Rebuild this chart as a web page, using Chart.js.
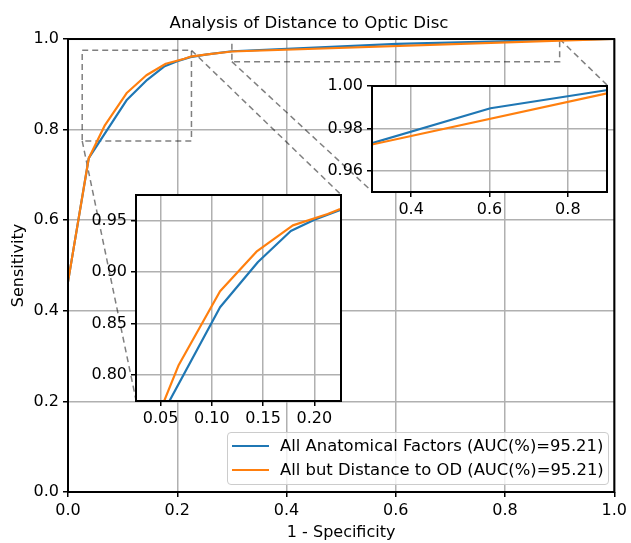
<!DOCTYPE html>
<html>
<head>
<meta charset="utf-8">
<script src="https://cdn.jsdelivr.net/npm/chart.js@4"></script>
<style>
  html, body { margin: 0; padding: 0; background: #fff; }
  #wrap { position: relative; width: 631px; height: 543px; font-family: "DejaVu Sans", sans-serif; }
  #wrap canvas { position: absolute; left: 0; top: 0; }
  .legend { position: absolute; left: 227px; top: 432px; width: 382px; height: 53px; box-sizing: border-box;
            border: 1px solid #cccccc; border-radius: 4px; background: rgba(255,255,255,0.8); }
  .lg-row { position: absolute; left: 0; height: 20px; line-height: 20px; white-space: nowrap; font-size: 16.4px; color: #000; }
  .lg-handle { position: absolute; left: 4px; top: 9px; width: 37px; height: 2px; }
  .lg-text { position: absolute; left: 52px; top: 0; }
</style>
</head>
<body>
<div id="wrap">
  <canvas id="main" width="631" height="543"></canvas>
  <canvas id="zoomLow"></canvas>
  <canvas id="zoomHigh"></canvas>
  <div class="legend" id="legend"></div>
</div>
<script>
// ROC points (x = 1 - specificity, y = sensitivity)
const seriesNames = ['All Anatomical Factors (AUC(%)=95.21)', 'All but Distance to OD (AUC(%)=95.21)'];
const seriesColors = ['#1f77b4', '#ff7f0e'];
const fprAll  = [0, 0.038, 0.108, 0.145, 0.177, 0.200, 0.224, 0.255, 0.300, 0.6025, 0.898, 1.0];
const tprAll  = [0.464, 0.737, 0.866, 0.910, 0.940, 0.951, 0.960, 0.966, 0.973, 0.9895, 0.998, 1.0];
const fprNoOD = [0, 0.038, 0.0677, 0.108, 0.1435, 0.179, 0.213, 0.224, 0.255, 0.300, 0.900, 1.0];
const tprNoOD = [0.464, 0.737, 0.810, 0.8815, 0.920, 0.9455, 0.9565, 0.961, 0.966, 0.9724, 0.9965, 1.0];

const mainTicks = [0, 0.2, 0.4, 0.6, 0.8, 1.0];
// lower-left zoom
const lowXRange = [0.026, 0.226], lowYRange = [0.775, 0.975];
const lowXTicks = [0.05, 0.10, 0.15, 0.20], lowYTicks = [0.80, 0.85, 0.90, 0.95];
// upper-right zoom
const highXRange = [0.3, 0.9], highYRange = [0.95, 1.0];
const highXTicks = [0.4, 0.6, 0.8], highYTicks = [0.96, 0.98, 1.00];

// where the insets sit, as fractions of the main axes
const lowPlace  = {x0: 0.125, y0: 0.2,   w: 0.376, h: 0.455};
const highPlace = {x0: 0.557, y0: 0.663, w: 0.431, h: 0.234};

Chart.defaults.font.family = '"DejaVu Sans", sans-serif';
Chart.defaults.font.size = 16;
Chart.defaults.color = '#000';

const toPts = (xs, ys) => xs.map((x, i) => ({x: x, y: ys[i]}));
const makeDatasets = () => [
  {label: seriesNames[0], data: toPts(fprAll, tprAll), borderColor: seriesColors[0], order: 1},
  {label: seriesNames[1], data: toPts(fprNoOD, tprNoOD), borderColor: seriesColors[1], order: 0}
].map(d => Object.assign(d, {showLine: true, pointRadius: 0, borderWidth: 2.2, fill: false, tension: 0,
                              borderJoinStyle: 'round'}));

const gridOpts = {color: '#b0b0b0', lineWidth: 1.5, tickColor: '#000', tickLength: 5, tickWidth: 1.5};

const frame = {
  id: 'frame',
  afterDraw(chart) {
    const {ctx, chartArea: a} = chart;
    ctx.save();
    ctx.strokeStyle = '#000';
    ctx.lineWidth = 2;
    ctx.strokeRect(a.left, a.top, a.right - a.left, a.bottom - a.top);
    ctx.restore();
  }
};
const whiteArea = {
  id: 'whiteArea',
  beforeDraw(chart) {
    const {ctx, chartArea: a} = chart;
    ctx.save();
    ctx.fillStyle = '#fff';
    ctx.fillRect(a.left, a.top, a.right - a.left, a.bottom - a.top);
    ctx.restore();
  }
};

const placeRect = (a, p) => {
  const w = a.right - a.left, h = a.bottom - a.top;
  return {left: a.left + p.x0 * w, right: a.left + (p.x0 + p.w) * w,
          top: a.bottom - (p.y0 + p.h) * h, bottom: a.bottom - p.y0 * h};
};

// dashed boxes on the main axes + connectors to the insets
const zoomMarks = {
  id: 'zoomMarks',
  beforeDatasetsDraw(chart) {
    const {ctx, chartArea: a, scales: {x, y}} = chart;
    ctx.save();
    ctx.strokeStyle = 'rgba(0,0,0,0.5)';
    ctx.lineWidth = 1.5;
    ctx.setLineDash([6, 4]);
    const boxes = [[lowXRange, lowYRange, lowPlace], [highXRange, highYRange, highPlace]];
    boxes.forEach(([xr, yr, p]) => {
      const x0 = x.getPixelForValue(xr[0]), x1 = x.getPixelForValue(xr[1]);
      const y0 = y.getPixelForValue(yr[0]), y1 = y.getPixelForValue(yr[1]);
      ctx.strokeRect(x0, y1, x1 - x0, y0 - y1);
      const t = placeRect(a, p);
      ctx.beginPath();
      ctx.moveTo(x0, y0); ctx.lineTo(t.left, t.bottom);
      ctx.moveTo(x1, y1); ctx.lineTo(t.right, t.top);
      ctx.stroke();
    });
    ctx.restore();
  }
};

const fixedTicks = vals => s => { s.ticks = vals.map(v => ({value: v})); };

const mainChart = new Chart(document.getElementById('main'), {
  type: 'scatter',
  data: {datasets: makeDatasets()},
  options: {
    responsive: false, animation: false, events: [],
    layout: {padding: {top: 0, right: 13, bottom: 0, left: 0}},
    plugins: {
      legend: {display: false}, tooltip: {enabled: false},
      title: {display: true, text: 'Analysis of Distance to Optic Disc', color: '#000',
              font: {size: 16.6, weight: 'normal'}, padding: {top: 14, bottom: 5.1}}
    },
    scales: {
      x: {type: 'linear', min: 0, max: 1, afterBuildTicks: fixedTicks(mainTicks), afterFit: s => { s.height = 51; },
          ticks: {padding: 4, maxRotation: 0, autoSkip: false, callback: v => v.toFixed(1)},
          grid: gridOpts, border: {display: false},
          title: {display: true, text: '1 - Specificity', font: {size: 16}, padding: {top: 0, bottom: 1}}},
      y: {type: 'linear', min: 0, max: 1, afterBuildTicks: fixedTicks(mainTicks), afterFit: s => { s.width = 68; },
          ticks: {padding: 4, autoSkip: false, callback: v => v.toFixed(1)},
          grid: gridOpts, border: {display: false},
          title: {display: true, text: 'Sensitivity', font: {size: 16}, padding: {top: 9, bottom: 0}}}
    }
  },
  plugins: [zoomMarks, frame]
});

function buildInset(cv, xr, yr, xt, yt, xDec, yDec) {
  return new Chart(cv, {
    type: 'scatter',
    data: {datasets: makeDatasets()},
    options: {
      responsive: false, maintainAspectRatio: false, animation: false, events: [],
      layout: {padding: {top: 16, right: 14, bottom: 0, left: 0}},
      plugins: {legend: {display: false}, tooltip: {enabled: false}},
      scales: {
        x: {type: 'linear', min: xr[0], max: xr[1], afterBuildTicks: fixedTicks(xt), afterFit: s => { s.height = 26; },
            ticks: {padding: 3, maxRotation: 0, autoSkip: false, callback: v => v.toFixed(xDec)},
            grid: gridOpts, border: {display: false}},
        y: {type: 'linear', min: yr[0], max: yr[1], afterBuildTicks: fixedTicks(yt), afterFit: s => { s.width = 50; },
            ticks: {padding: 4, autoSkip: false, callback: v => v.toFixed(yDec)},
            grid: gridOpts, border: {display: false}}
      }
    },
    plugins: [whiteArea, frame]
  });
}

function makeInset(id, place, xr, yr, xt, yt, xDec, yDec) {
  const t = placeRect(mainChart.chartArea, place);
  const w = Math.round(t.right - t.left), h = Math.round(t.bottom - t.top);
  const cv = document.getElementById(id);
  cv.width = w + 64;
  cv.height = h + 42;
  let ch = buildInset(cv, xr, yr, xt, yt, xDec, yDec);
  // make the inner plot area exactly the wanted size
  const ca = ch.chartArea;
  const dw = Math.round(w - (ca.right - ca.left)), dh = Math.round(h - (ca.bottom - ca.top));
  if (dw !== 0 || dh !== 0) {
    const nw = cv.width + dw, nh = cv.height + dh;
    ch.destroy();
    cv.width = nw; cv.height = nh;
    ch = buildInset(cv, xr, yr, xt, yt, xDec, yDec);
  }
  cv.style.left = Math.round(t.left - ch.chartArea.left) + 'px';
  cv.style.top = Math.round(t.top - ch.chartArea.top) + 'px';
  return ch;
}

makeInset('zoomLow', lowPlace, lowXRange, lowYRange, lowXTicks, lowYTicks, 2, 2);
makeInset('zoomHigh', highPlace, highXRange, highYRange, highXTicks, highYTicks, 1, 2);

// legend
const legend = document.getElementById('legend');
seriesNames.forEach((name, i) => {
  const row = document.createElement('div');
  row.className = 'lg-row';
  row.style.top = (3 + i * 23.5) + 'px';
  row.innerHTML = '<span class="lg-handle" style="background:' + seriesColors[i] + '"></span>' +
                  '<span class="lg-text">' + name + '</span>';
  legend.appendChild(row);
});
</script>
</body>
</html>
